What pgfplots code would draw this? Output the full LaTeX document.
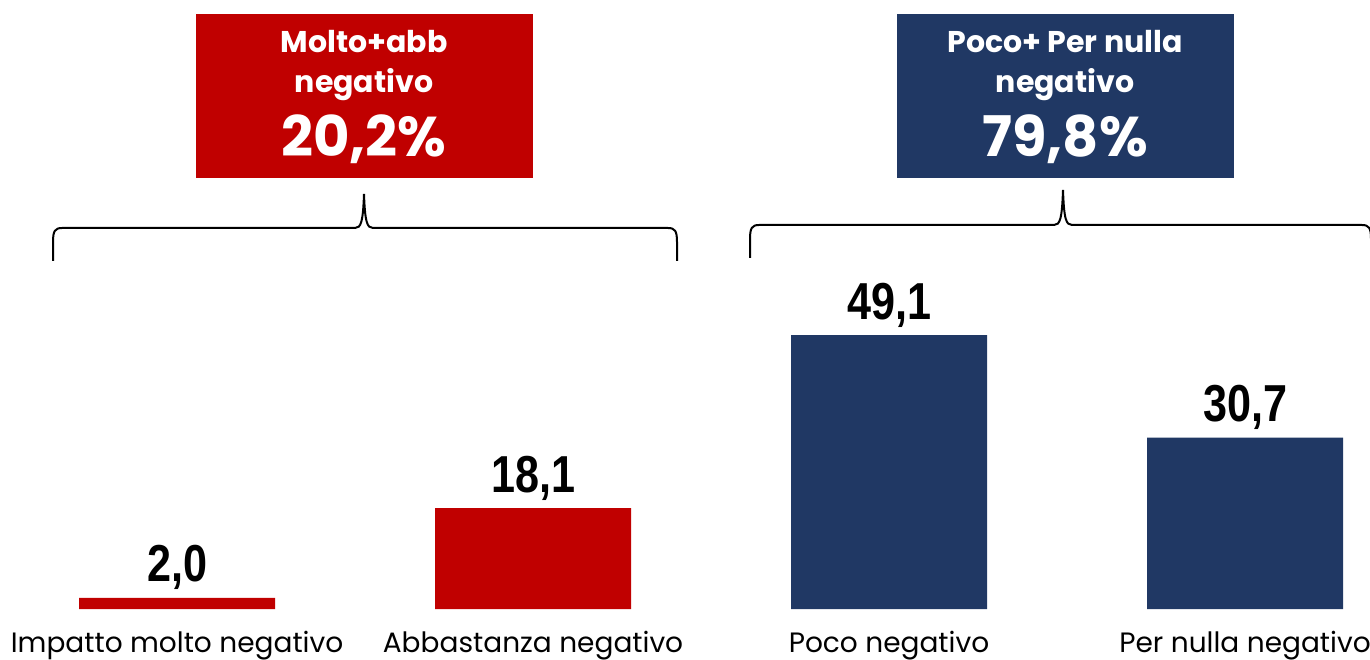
\documentclass[border=0pt]{standalone}
\usepackage{fontspec}
\setmainfont{Poppins}
\newfontfamily\valfont{Liberation Sans}[FakeStretch=0.83]
\usepackage{pgfplots}
\pgfplotsset{compat=1.18}
\definecolor{rosso}{HTML}{C00000}
\definecolor{blu}{HTML}{203864}
\begin{document}
\begin{tikzpicture}
\begin{axis}[
    at={(0,0)}, anchor=south west,
    scale only axis,
    width=685pt, height=304.5pt,
    xmin=-0.4972, xmax=3.3511,
    ymin=0, ymax=109.14,
    ybar, bar width=98pt, bar shift=0pt,
    axis line style={draw=none},
    major tick length=0pt,
    ytick=\empty,
    xtick={0,1,2,3},
    xticklabels={Impatto molto negativo, Abbastanza negativo, Poco negativo, Per nulla negativo},
    xticklabel style={font=\fontsize{14}{17}\selectfont, anchor=base, yshift=-21.5pt},
    clip=false,
    nodes near coords,
    every node near coord/.append style={
        font=\valfont\bfseries\fontsize{26}{30}\selectfont, text=black,
        anchor=base, yshift=8pt,
        /pgf/number format/.cd, fixed, fixed zerofill, precision=1, use comma,
        assume math mode=true
    },
]
\addplot[fill=rosso, draw=none] coordinates {(0,2.0) (1,18.1)};
\addplot[fill=blu, draw=none] coordinates {(2,49.1) (3,30.7)};
\end{axis}
% annotations in pixel coordinates of the reference
\begin{scope}[x=0.5pt, y=-0.5pt, shift={(0,304.5pt)}]
  \draw[line width=1pt] (53,261) -- (53,242) .. controls (53,231) and (55,228) .. (62,228)
     -- (355,228) .. controls (361,228) and (363,222) .. (364,194)
     .. controls (365,222) and (367,228) .. (373,228) -- (668,228)
     .. controls (675,228) and (677,231) .. (677,242) -- (677,261);
  \draw[line width=1pt] (750,258) -- (750,239) .. controls (750,228) and (752,225) .. (759,225)
     -- (1054,225) .. controls (1060,225) and (1062,219) .. (1063,190)
     .. controls (1064,219) and (1066,225) .. (1072,225) -- (1362,225)
     .. controls (1369,225) and (1371,228) .. (1371,239) -- (1371,258);
  \fill[rosso] (196,14) rectangle (533,178);
  \fill[blu] (897,14) rectangle (1234,178);
  \begin{scope}[every node/.style={text=white, inner sep=0pt, anchor=base, font=\bfseries}]
    \node[font=\bfseries\fontsize{15}{18}\selectfont] at (364,53) {Molto+abb};
    \node[font=\bfseries\fontsize{15}{18}\selectfont] at (364,93) {negativo};
    \node[font=\bfseries\fontsize{28}{32}\selectfont] at (364,157) {20,2\%};
    \node[font=\bfseries\fontsize{15}{18}\selectfont] at (1065,53) {Poco+ Per nulla};
    \node[font=\bfseries\fontsize{15}{18}\selectfont] at (1065,93) {negativo};
    \node[font=\bfseries\fontsize{28}{32}\selectfont] at (1065,157) {79,8\%};
  \end{scope}
\end{scope}
\pgfresetboundingbox
\path (0,-25pt) rectangle (685pt,304.5pt);
\end{tikzpicture}
\end{document}
